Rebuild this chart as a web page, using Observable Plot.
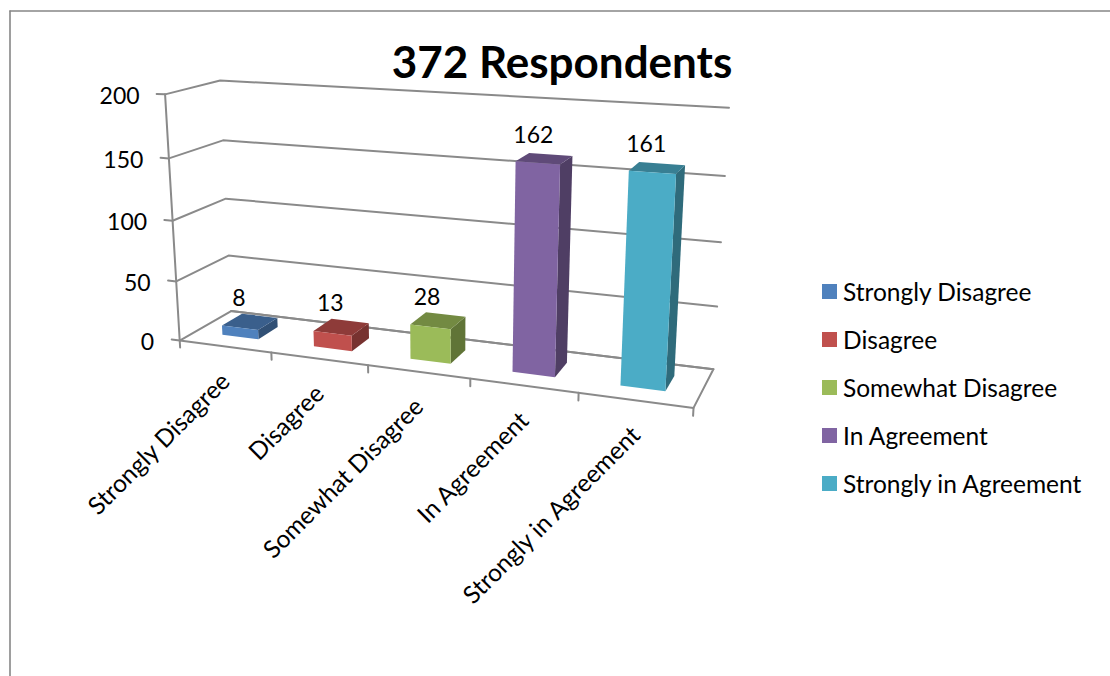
<!DOCTYPE html>
<html>
<head>
<meta charset="utf-8">
<script src="https://cdn.jsdelivr.net/npm/d3@7"></script>
<script src="https://cdn.jsdelivr.net/npm/@observablehq/plot@0.6"></script>
<style>
html,body{margin:0;padding:0;background:#fff;overflow:hidden}
#chart{position:relative;width:1110px;height:676px;font-family:Lato,sans-serif;color:#000}
#chart svg{display:block;position:absolute;left:0;top:0}
#title{position:absolute;left:362px;width:400px;top:36px;text-align:center;font-weight:700;font-size:44px;line-height:50px}
#legend{position:absolute;left:822px;top:267px;font-size:24.5px}
.row{display:flex;align-items:center;height:48.2px;white-space:nowrap}
.sw{width:15px;height:15px;margin-right:6px}
</style>
</head>
<body>
<div id="chart">
<div id="title"></div>
<div id="legend"></div>
</div>
<script>
// Chart data
const title = "372 Respondents";
const categories = ["Strongly Disagree", "Disagree", "Somewhat Disagree", "In Agreement", "Strongly in Agreement"];
const values = [8, 13, 28, 162, 161];
const colors = ["#4f81bd", "#c0504d", "#9bbb59", "#8064a2", "#4bacc6"];
const yTicks = [0, 50, 100, 150, 200];

// Camera calibration for the pseudo-3D box: [category pos, value, depth] -> picture position
const calibration = [
  [0,200,0,165,94.5],[0,150,0,168,157],[0,100,0,172,220],[0,50,0,176,281],[0,0,0,179.5,340],
  [0,200,1,220,80],[0,150,1,222,140],[0,100,1,225,198],[0,50,1,228,255],[0,0,1,231,311],
  [5,200,1,729,107],[5,150,1,724,176],[5,100,1,720,242],[5,50,1,717,306],[5,0,1,713,368],
  [5,0,0,693,408],[1,0,0,270,352],[2,0,0,368,365],[4,0,0,578,392]
];

function solve(A, b) {
  const n = b.length, M = A.map((r, i) => [...r, b[i]]);
  for (let c = 0; c < n; c++) {
    let p = c;
    for (let r = c + 1; r < n; r++) if (Math.abs(M[r][c]) > Math.abs(M[p][c])) p = r;
    [M[c], M[p]] = [M[p], M[c]];
    for (let r = 0; r < n; r++) if (r !== c) {
      const f = M[r][c] / M[c][c];
      for (let k = c; k <= n; k++) M[r][k] -= f * M[c][k];
    }
  }
  return M.map((r, i) => r[n] / r[i]);
}
function fitCamera(points) {
  const rows = [], rhs = [];
  for (const [u, v, d, X, Y] of points) {
    const U = u / 5, V = v / 200, x = X / 1000, y = Y / 1000;
    rows.push([U, V, d, 1, 0, 0, 0, 0, -x * U, -x * V, -x * d]); rhs.push(x);
    rows.push([0, 0, 0, 0, U, V, d, 1, -y * U, -y * V, -y * d]); rhs.push(y);
  }
  const N = d3.range(11).map(i => d3.range(11).map(j => d3.sum(rows, r => r[i] * r[j])));
  const t = d3.range(11).map(i => d3.sum(rows, (r, k) => r[i] * rhs[k]));
  return solve(N, t);
}
const P = fitCamera(calibration);
function project(u, v, d) {
  const U = u / 5, V = v / 200;
  const w = P[8] * U + P[9] * V + P[10] * d + 1;
  return [1000 * (P[0] * U + P[1] * V + P[2] * d + P[3]) / w,
          1000 * (P[4] * U + P[5] * V + P[6] * d + P[7]) / w];
}

// Paths built from the data through the projection
const lines = [];
const addLine = (id, pts) => pts.forEach(p => { const [x, y] = project(...p); lines.push({id, x, y}); });
yTicks.forEach(v => addLine("grid" + v, [[-0.09, v, 0], [0, v, 0], [0, v, 1], [5, v, 1]]));
addLine("axis", [[0, 0, 0], [0, 200, 0]]);
addLine("floor", [[0, 0, 0], [5, 0, 0], [5, 0, 1], [0, 0, 1]]);
d3.range(6).forEach(k => addLine("tick" + k, [[k, 0, 0], [k, -6, 0]]));

const faces = [];
const shade = (c, f) => { const r = d3.rgb(c); return d3.rgb(r.r * f, r.g * f, r.b * f).formatHex(); };
values.forEach((val, i) => {
  const a = i + 0.3, b = i + 0.7, n = 0.3, f = 0.7;
  const poly = [
    ["side", 0.62, [[b, 0, n], [b, 0, f], [b, val, f], [b, val, n]]],
    ["top", 0.74, [[a, val, n], [b, val, n], [b, val, f], [a, val, f]]],
    ["front", 1, [[a, 0, n], [b, 0, n], [b, val, n], [a, val, n]]]
  ];
  for (const [name, k, pts] of poly) pts.forEach(p => {
    const [x, y] = project(...p);
    faces.push({id: i + name, x, y, fill: shade(colors[i], k)});
  });
});

const yLabels = yTicks.map(v => { const [x, y] = project(0, v, 0); return {x, y, t: String(v)}; });
const catLabels = categories.map((t, i) => { const [x, y] = project(i + 0.5, 0, 0); return {x, y, t}; });
const valLabels = values.map((v, i) => { const [x, y] = project(i + 0.5, v, 0.5); return {x, y, t: String(v)}; });

const plot = Plot.plot({
  width: 1110, height: 676, margin: 0,
  x: {type: "identity", axis: null},
  y: {type: "identity", axis: null},
  color: {type: "identity"},
  style: {background: "transparent", fontFamily: "Lato, sans-serif"},
  marks: [
    Plot.ruleX([9.5], {y1: 10.5, y2: 676, stroke: "#868686", strokeWidth: 1.6}),
    Plot.ruleY([10.5], {x1: 9.5, x2: 1110, stroke: "#868686", strokeWidth: 1.6}),
    Plot.line(lines, {x: "x", y: "y", z: "id", stroke: "#8a8a8a", strokeWidth: 2}),
    Plot.line(faces, {x: "x", y: "y", z: "id", fill: "fill", stroke: null}),
    Plot.text(yLabels, {x: "x", y: "y", text: "t", dx: -25.5, dy: 2, textAnchor: "end", fontSize: 23, fill: "#000"}),
    Plot.text(valLabels, {x: "x", y: "y", text: "t", dx: -11, dy: -23, fontSize: 23, fill: "#000"}),
    Plot.text(catLabels, {x: "x", y: "y", text: "t", dx: 1, dy: 31, rotate: -45, textAnchor: "end", fontSize: 24.5, fill: "#000"})
  ]
});
document.getElementById("chart").prepend(plot);

document.getElementById("title").textContent = title;
const legend = document.getElementById("legend");
categories.forEach((c, i) => {
  const row = document.createElement("div"); row.className = "row";
  const sw = document.createElement("div"); sw.className = "sw"; sw.style.background = colors[i];
  const tx = document.createElement("span"); tx.textContent = c;
  row.append(sw, tx); legend.append(row);
});
</script>
</body>
</html>
